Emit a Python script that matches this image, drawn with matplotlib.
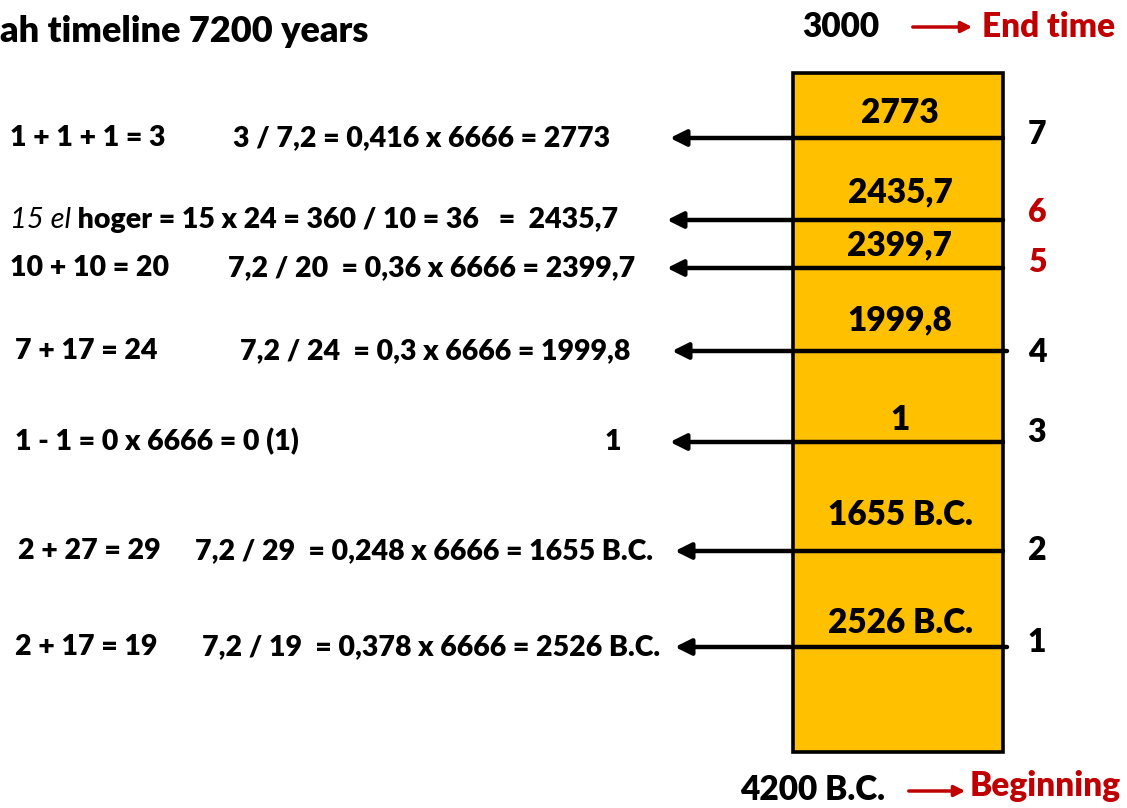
import matplotlib
matplotlib.use("Agg")
import matplotlib.pyplot as plt

# stages on the timeline, bottom (1) to top (7)
stage_numbers = ['1', '2', '3', '4', '5', '6', '7']
stage_years = ['2526 B.C.', '1655 B.C.', '1', '1999,8', '2399,7', '2435,7', '2773']
stage_sums = ['2 + 17 = 19', '2 + 27 = 29', '1 - 1 = 0 x 6666 = 0 (1)',
              '7 + 17 = 24', '10 + 10 = 20', None, '1 + 1 + 1 = 3']
stage_calcs = ['7,2 / 19  = 0,378 x 6666 = 2526 B.C.',
               '7,2 / 29  = 0,248 x 6666 = 1655 B.C.',
               '1',
               '7,2 / 24  = 0,3 x 6666 = 1999,8',
               '7,2 / 20  = 0,36 x 6666 = 2399,7',
               'hoger = 15 x 24 = 360 / 10 = 36   =  2435,7',
               '3 / 7,2 = 0,416 x 6666 = 2773']
red_stages = ['5', '6']
start_year = '4200 B.C.'
end_year = '3000'

# layout (pixel coordinates)
line_y = [647, 551, 442, 351, 268, 220, 138]
label_y = [623, 515, 420, 320, 245, 192, 113]
num_y = [643, 550, 433, 352, 263, 213, 135]
sum_x = [15, 18, 15, 15, 10, None, 10]
calc_x = [202, 195, 613, 240, 228, 10, 233]
line_right = [1007, 1003, 1003, 1007, 1003, 1003, 1003]
tip_x = [675, 675, 670, 672, 667, 667, 670]

FONT = ['Lato', 'DejaVu Sans']
W = 'heavy'
RED = '#C00000'
BOX = '#FFC000'

fig = plt.figure(figsize=(11.27, 8.08), dpi=100)
ax = fig.add_axes([0, 0, 1, 1])
ax.set_xlim(0, 1127)
ax.set_ylim(808, 0)
ax.axis('off')

# the orange timeline box
box = plt.Rectangle((793, 73), 210, 679, facecolor=BOX, edgecolor='black', lw=2.6, zorder=1)
ax.add_patch(box)

ax.text(0, 32, 'ah timeline 7200 years', fontsize=26, fontweight=W, family=FONT,
        ha='left', va='center')

# top and bottom labels
ax.text(841, 27, end_year, fontsize=24, fontweight=W, family=FONT, ha='center', va='center')
ax.annotate('', xy=(975, 27), xytext=(910, 27),
            arrowprops=dict(arrowstyle='-|>', color=RED, lw=2.5, mutation_scale=16))
ax.text(982, 27, 'End time', fontsize=24, fontweight=W, family=FONT, color=RED,
        ha='left', va='center')

ax.text(813, 790, start_year, fontsize=24, fontweight=W, family=FONT, ha='center', va='center')
ax.annotate('', xy=(968, 791), xytext=(906, 791),
            arrowprops=dict(arrowstyle='-|>', color=RED, lw=2.5, mutation_scale=16))
ax.text(970, 786, 'Beginning', fontsize=24, fontweight=W, family=FONT, color=RED,
        ha='left', va='center')

eq = dict(fontsize=20.5, fontweight=W, family=FONT, va='center')
for i in range(len(stage_numbers)):
    y = line_y[i]
    # arrow out of the box
    ax.annotate('', xy=(tip_x[i], y), xytext=(line_right[i], y),
                arrowprops=dict(arrowstyle='-|>', color='black', lw=3.2,
                                mutation_scale=24, shrinkA=0, shrinkB=0), zorder=3)
    ax.text(900, label_y[i], stage_years[i], fontsize=24, fontweight=W, family=FONT,
            ha='center', va='center', zorder=4)
    ax.text(1037, num_y[i], stage_numbers[i], fontsize=23, fontweight=W, family=FONT,
            color=RED if stage_numbers[i] in red_stages else 'black', ha='center', va='center')
    if stage_sums[i] is not None:
        ax.text(sum_x[i], y, stage_sums[i], ha='left', **eq)
        ax.text(calc_x[i], y, stage_calcs[i], ha='left' if stage_calcs[i] != '1' else 'center', **eq)
    else:
        first = ax.text(calc_x[i], y, '15 el', fontsize=21, fontstyle='italic',
                        family=FONT, ha='left', va='center')
        ax.annotate(' ' + stage_calcs[i], xy=(1, 0), xycoords=first, ha='left', va='bottom',
                    fontsize=20.5, fontweight=W, family=FONT)

fig.savefig('out.png', dpi=100)
